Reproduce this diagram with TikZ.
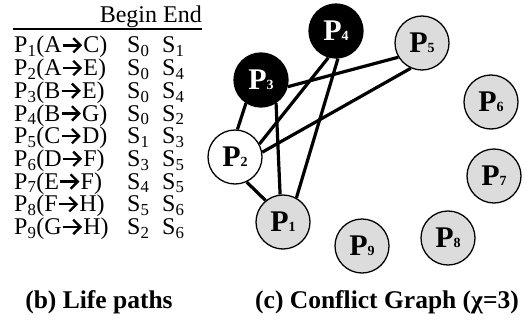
\documentclass[tikz,border=0pt]{standalone}
\usepackage{fontspec}
\setmainfont{Liberation Serif}
\usetikzlibrary{arrows.meta,backgrounds}

% heavy arrow used inside the path labels
\newcommand{\patharr}{\tikz[baseline=-0.32em,x=1cm,y=1cm]\draw[line width=0.1em,-{Straight Barb[length=0.3em,width=0.6em,line width=0.1em]}] (0,0) -- (0.8em,0);}
\newcommand{\plabel}[1]{{\fontsize{30}{30}\selectfont\bfseries P}{\fontsize{14}{14}\selectfont\bfseries #1}}

\tikzset{
  rowtext/.style={anchor=base west, inner sep=0pt, font=\fontsize{24}{24}\selectfont},
  pnode/.style={circle, draw, line width=1.3pt, minimum size=54pt, inner sep=0pt, fill=lightfill},
  darknode/.style={pnode, fill=black, text=white},
  whitenode/.style={pnode, fill=white},
  conflict/.style={line width=3.2pt},
  caption/.style={anchor=base, inner sep=0pt, font=\fontsize{25.5}{25.5}\selectfont\bfseries}
}
\definecolor{lightfill}{RGB}{220,220,220}

\begin{document}
\begin{tikzpicture}[x=1pt,y=-1pt]
\useasboundingbox (0,0) rectangle (526,326);

% ---- table of life paths ----
\node[rowtext, anchor=base east] (head) at (202,23) {Begin End};
\draw[line width=1.3pt] (13,29) -- (202,29);
\foreach \i/\a/\b/\s/\e [count=\k from 0] in
  {1/A/C/0/1, 2/A/E/0/4, 3/B/E/0/4, 4/B/G/0/2, 5/C/D/1/3,
   6/D/F/3/5, 7/E/F/4/5, 8/F/H/5/6, 9/G/H/2/6} {
  \node[rowtext] (row\i) at (14,53+22.7*\k) {P\textsubscript{\i}(\a\patharr\b)};
  \node[rowtext] (beg\i) at (127,53+22.7*\k) {S\textsubscript{\s}};
  \node[rowtext] (end\i) at (162,53+22.7*\k) {S\textsubscript{\e}};
}
\node[caption] (capb) at (99,308) {(b) Life paths};

% ---- conflict graph ----
\node[darknode]  (P4) at (336,31)  {\plabel{4}};
\node[pnode]     (P5) at (422,43)  {\plabel{5}};
\node[darknode]  (P3) at (261,80)  {\plabel{3}};
\node[pnode]     (P6) at (491,102) {\plabel{6}};
\node[whitenode] (P2) at (235,157) {\plabel{2}};
\node[pnode]     (P7) at (494,176) {\plabel{7}};
\node[pnode]     (P1) at (283,222) {\plabel{1}};
\node[pnode]     (P9) at (362,246) {\plabel{9}};
\node[pnode]     (P8) at (448,238) {\plabel{8}};

\begin{scope}[on background layer]
  \draw[conflict] (P3.-14)  -- (P5.-149);
  \draw[conflict] (P5.-114) -- (P2.10);
  \draw[conflict] (P4.-106) -- (P2.28);
  \draw[conflict] (P4.-86)  -- (P1.61);
  \draw[conflict] (P3.-57)  -- (P1.96);
  \draw[conflict] (P3.-123) -- (P2.85);
  \draw[conflict] (P2.-65)  -- (P1.129);
\end{scope}

\node[caption] (capc) at (387,308) {(c) Conflict Graph (χ=3)};
\end{tikzpicture}
\end{document}
